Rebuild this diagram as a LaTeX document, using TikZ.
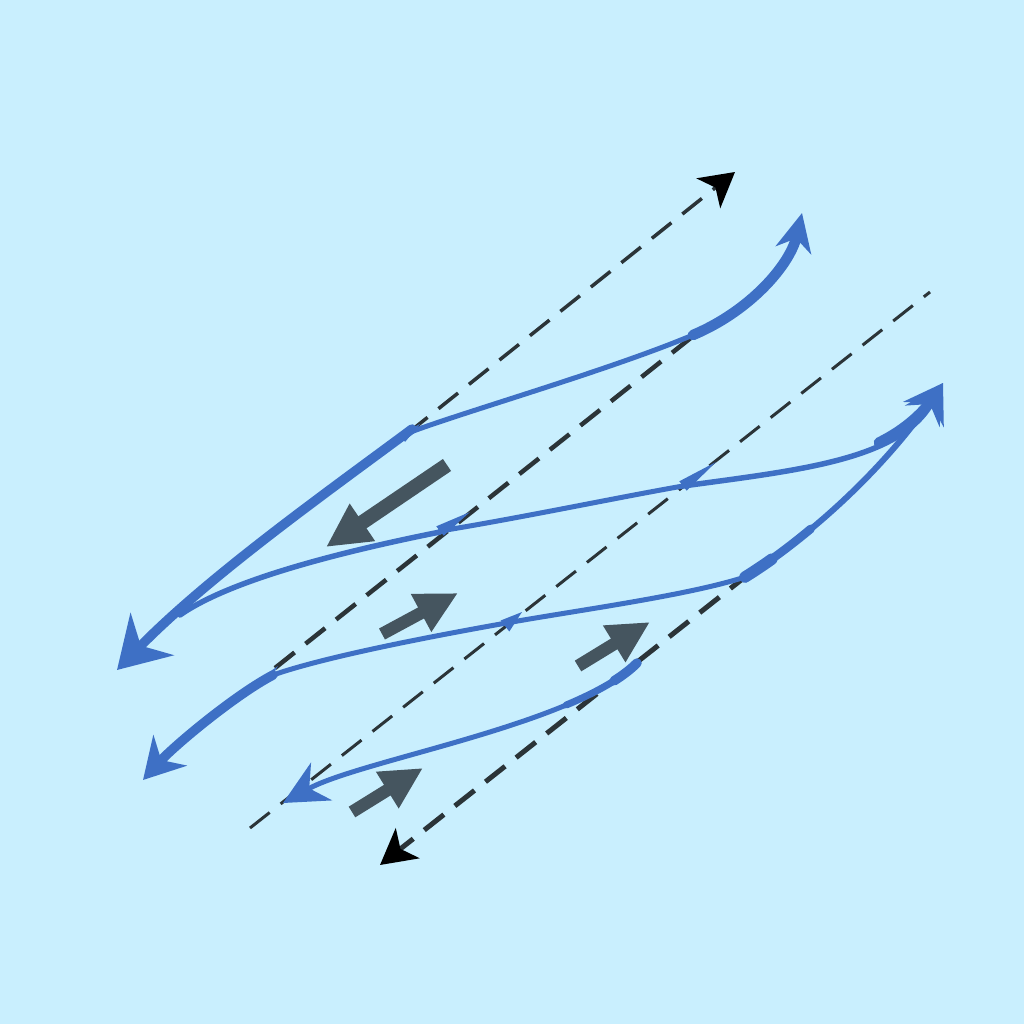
\documentclass[tikz,border=0pt]{standalone}
\usepackage{tikz}
\usetikzlibrary{arrows.meta}
\definecolor{sky}{RGB}{201,239,254}
\definecolor{flow}{RGB}{62,112,197}
\definecolor{guide}{RGB}{43,52,56}
\definecolor{push}{RGB}{69,85,95}

\begin{document}
\begin{tikzpicture}[x=0.1mm, y=-0.1mm,
	dashline/.style={guide, dash pattern=on 2.5mm off 1.4mm},
	stream/.style={flow, line cap=round},
	thrust/.style={push, line width=1.25mm, -{Triangle[length=4.2mm, width=4mm]}}]
	\fill [sky] (0,0) rectangle (1024,1024);

	% dashed guide lines
	\draw [dashline, line width=0.35mm, -{Stealth[length=3.4mm, width=3.8mm, inset=0.9mm, color=black]}] (408,433) -- (735,172);
	\draw [dashline, line width=0.45mm] (275,668) -- (697,333);
	\draw [dashline, line width=0.3mm] (250,828) -- (930,292);
	\draw [dashline, line width=0.5mm, -{Stealth[length=3.5mm, width=3.8mm, inset=0.9mm, color=black]}] (750,573) -- (380,865);

	% upper stream
	\draw [stream, line width=0.5mm] (408,433) .. controls (460,413) and (610,370) .. (693,335);
	\draw [stream, line width=1.05mm, -{Stealth[length=3.8mm, width=3.6mm, inset=1.2mm]}] (693,335) .. controls (750,311) and (790,265) .. (802,213);
	\draw [stream, line width=0.95mm, -{Stealth[length=5mm, width=6mm, inset=1.6mm]}] (412,429) .. controls (330,490) and (210,575) .. (117,670);
	\fill [flow] (405.1,441.9) -- (420,424) -- (398.9,434.1) -- cycle;

	% second stream
	\draw [stream, line width=0.55mm] (440,532) .. controls (340,552) and (230,580) .. (180,615);
	\draw [stream, line width=0.5mm] (440,531) .. controls (520,518) and (620,497) .. (683,486);
	\draw [stream, line width=0.55mm, -{Stealth[length=3.8mm, width=4.4mm, inset=1.4mm]}] (683,486) .. controls (800,470) and (900,460) .. (943,383);
	\draw [stream, line width=1mm] (878.7,442.4) .. controls (898.2,432.7) and (914.9,420.3) .. (928.4,404.2);
	\fill [flow] (443.7,535.7) -- (470,512) -- (436.3,526.3) -- cycle;
	\fill [flow] (686.7,490.7) -- (716,462) -- (679.3,481.3) -- cycle;

	% third stream
	\draw [stream, line width=0.5mm] (512,622) .. controls (580,610) and (690,595) .. (745,577);
	\draw [stream, line width=0.6mm, -{Stealth[length=3.8mm, width=4.4mm, inset=1.4mm]}] (745,577) .. controls (820,530) and (890,460) .. (943,383);
	\draw [stream, line width=0.85mm] (745,577) .. controls (767.5,562.9) and (789.5,546.6) .. (810.8,528.8);
	\draw [stream, line width=1.15mm] (745,577) .. controls (754,571.4) and (762.9,565.5) .. (771.7,559.2);
	\draw [stream, line width=0.5mm] (512,622) .. controls (450,633) and (330,655) .. (273,675);
	\draw [stream, line width=0.95mm, -{Stealth[length=4mm, width=4.5mm, inset=1.3mm]}] (273,675) .. controls (235,695) and (175,745) .. (143,780);
	\fill [flow] (509.3,631.5) -- (522,612) -- (500.7,620.5) -- cycle;
	\fill [flow] (746.1,582.9) -- (755,570) -- (739.9,575.1) -- cycle;
	\fill [flow] (268.2,682.1) -- (278,666) -- (263.8,675.9) -- cycle;

	% lowest stream
	\draw [stream, line width=0.5mm, -{Stealth[length=4.4mm, width=4.3mm, inset=1.4mm]}] (637,663) .. controls (575,725) and (360,760) .. (283,803);
	\draw [stream, line width=0.7mm] (637,663) .. controls (621.5,678.5) and (596.4,692.3) .. (566.3,705);
	\draw [stream, line width=0.95mm] (637,663) .. controls (630.8,669.2) and (623.1,675.1) .. (614.1,680.8);

	% push arrows
	\draw [thrust, line width=1.45mm, -{Triangle[length=4.4mm, width=4.2mm]}] (447,465) -- (326,547);
	\draw [thrust] (382,634) -- (458,593);
	\draw [thrust] (578,666) -- (650,622);
	\draw [thrust] (352,812) -- (423,768);
\end{tikzpicture}
\end{document}
